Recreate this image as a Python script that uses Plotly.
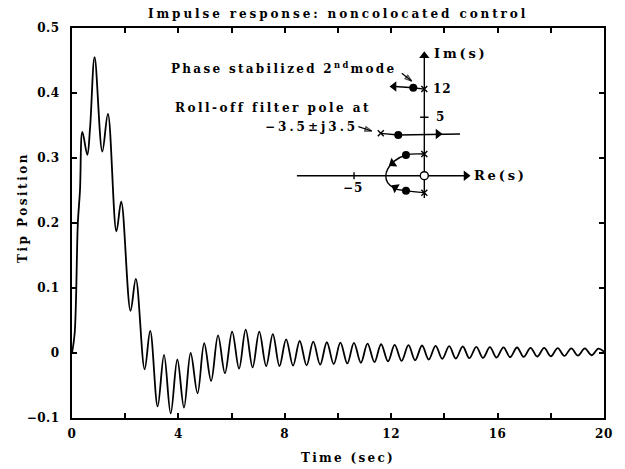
import plotly.graph_objects as go

# ---------------- data ----------------
time_s = [0.00, 0.10, 0.22, 0.30, 0.39, 0.575, 0.68, 0.85, 1.14, 1.35, 1.67, 1.85,
          2.20, 2.40, 2.73, 2.94, 3.22, 3.46, 3.71, 3.96, 4.21, 4.46, 4.72, 4.97,
          5.23, 5.49, 5.75, 6.02, 6.28, 6.53, 6.79, 7.04, 7.30, 7.55, 7.80, 8.05,
          8.31, 8.56, 8.82, 9.07, 9.33, 9.58, 9.84, 10.09, 10.35, 10.60, 10.86, 11.11,
          11.37, 11.62, 11.88, 12.13, 12.39, 12.65, 12.90, 13.16, 13.41, 13.67, 13.92,
          14.18, 14.43, 14.69, 14.94, 15.20, 15.45, 15.71, 15.96, 16.22, 16.47, 16.73,
          16.98, 17.24, 17.49, 17.75, 18.00, 18.26, 18.51, 18.77, 19.02, 19.28, 19.53,
          19.79, 20.00]
tip_position = [0.000, 0.030, 0.200, 0.250, 0.340, 0.305, 0.347, 0.455, 0.310, 0.368, 0.187, 0.233,
                0.065, 0.114, -0.025, 0.034, -0.082, -0.003, -0.093, -0.010, -0.084, 0.000, -0.062, 0.015,
                -0.043, 0.027, -0.031, 0.033, -0.024, 0.036, -0.022, 0.033, -0.020, 0.029, -0.020, 0.021,
                -0.0195, 0.0185, -0.019, 0.0175, -0.018, 0.0165, -0.017, 0.016, -0.016, 0.0155, -0.015, 0.0145,
                -0.014, 0.0135, -0.013, 0.0125, -0.012, 0.012, -0.011, 0.0115, -0.010, 0.011, -0.009,
                0.0105, -0.0085, 0.010, -0.008, 0.0095, -0.0075, 0.009, -0.007, 0.0088, -0.0065, 0.0085,
                -0.006, 0.008, -0.0055, 0.0078, -0.005, 0.0075, -0.0045, 0.0072, -0.004, 0.007, -0.0035,
                0.0068, 0.002]

x_tick_vals = [0, 2, 4, 6, 8, 10, 12, 14, 16, 18, 20]
x_tick_text = ["0", "", "4", "", "8", "", "12", "", "16", "", "20"]
y_tick_vals = [-0.1, 0.0, 0.1, 0.2, 0.3, 0.4, 0.5]
y_tick_text = ["\u22120.1", "0", "0.1", "0.2", "0.3", "0.4", "0.5"]

# root-locus sketch (sketch units: Re(s), Im(s))
re_axis_re = [-9.1, 3.0]
re_axis_im = [0.0, 0.0]
im_axis_re = [0.0, 0.0]
im_axis_im = [-1.9, 10.25]
axis_tick_re = [-5.02, -5.02, None, -0.3, 0.3]
axis_tick_im = [-0.3, 0.3, None, 5.0, 5.0]

mode2_re = [0.0, -0.79, -2.1]
mode2_im = [7.4, 7.52, 7.62]
rolloff_re = [-3.11, -1.86, 2.55]
rolloff_im = [3.62, 3.48, 3.56]
mode1_re = [0.0, -1.31, -2.2, -2.6, -2.75, -2.62, -2.1, -1.31, 0.0]
mode1_im = [1.85, 1.77, 1.2, 0.6, 0.0, -0.6, -1.1, -1.28, -1.45]

pole_re = [0.0, -3.11, 0.0, 0.0]
pole_im = [7.4, 3.62, 1.85, -1.45]
gain_pt_re = [-0.79, -1.86, -1.31, -1.31]
gain_pt_im = [7.52, 3.48, 1.77, -1.28]
zero_re = [0.0]
zero_im = [0.0]

head_re = [2.98, 0.0, -2.16, 0.98, -2.27, -2.08]
head_im = [0.0, 10.25, 7.62, 3.56, 1.05, -1.02]
head_angle = [90, 0, 270, 90, 235, 300]

# label pointers (tail -> tip)
pointer_mode_re = [-1.61, -0.9]
pointer_mode_im = [8.75, 8.09]
pointer_pole_re = [-4.71, -3.76]
pointer_pole_im = [4.19, 3.82]

# ---------------- figure ----------------
FONT = "DejaVu Serif"


def sp(text, px):
    return "<span style='letter-spacing:%.1fpx'>%s</span>" % (px, text)


fig = go.Figure()

fig.add_trace(go.Scatter(x=time_s, y=tip_position, mode="lines",
                         line=dict(color="black", width=1.8, shape="spline", smoothing=1.0),
                         hoverinfo="skip", showlegend=False))

ins = dict(xaxis="x2", yaxis="y2", showlegend=False, hoverinfo="skip")
line_k = dict(color="black", width=1.4)
fig.add_trace(go.Scatter(x=re_axis_re, y=re_axis_im, mode="lines", line=line_k, **ins))
fig.add_trace(go.Scatter(x=im_axis_re, y=im_axis_im, mode="lines", line=line_k, **ins))
fig.add_trace(go.Scatter(x=axis_tick_re, y=axis_tick_im, mode="lines", line=line_k, **ins))
fig.add_trace(go.Scatter(x=mode2_re, y=mode2_im, mode="lines", line=line_k, **ins))
fig.add_trace(go.Scatter(x=rolloff_re, y=rolloff_im, mode="lines", line=line_k, **ins))
fig.add_trace(go.Scatter(x=mode1_re, y=mode1_im, mode="lines",
                         line=dict(color="black", width=1.4, shape="spline"), **ins))
fig.add_trace(go.Scatter(x=head_re, y=head_im, mode="markers",
                         marker=dict(symbol="triangle-up", size=9, color="black", angle=head_angle,
                                     line=dict(width=0)), **ins))
fig.add_trace(go.Scatter(x=pole_re, y=pole_im, mode="markers",
                         marker=dict(symbol="x-thin", size=6, line=dict(color="black", width=1.4)), **ins))
fig.add_trace(go.Scatter(x=gain_pt_re, y=gain_pt_im, mode="markers",
                         marker=dict(symbol="circle", size=8, color="black"), **ins))
fig.add_trace(go.Scatter(x=zero_re, y=zero_im, mode="markers",
                         marker=dict(symbol="circle", size=8, color="white",
                                     line=dict(color="black", width=1.4)), **ins))
for pr, pi in [(pointer_mode_re, pointer_mode_im), (pointer_pole_re, pointer_pole_im)]:
    fig.add_trace(go.Scatter(x=pr, y=pi, mode="lines+markers", line=dict(color="black", width=1.2),
                             marker=dict(symbol="arrow-open", size=[0, 7], angleref="previous",
                                         color="black", line=dict(color="black", width=1.3)), **ins))

tf = dict(family=FONT, size=12, color="black", weight="bold")
tf13 = dict(family=FONT, size=13, color="black", weight="bold")

ann = []
ann.append(dict(text=sp("Impulse response: noncolocated control", 2.9), x=0.5, y=1.036,
                xref="paper", yref="paper", showarrow=False, xanchor="center", yanchor="middle", font=tf))
ann.append(dict(text=sp("Time (sec)", 2.3), x=0.5188, y=-0.1026,
                xref="paper", yref="paper", showarrow=False, xanchor="center", yanchor="middle", font=tf))
ann.append(dict(text=sp("Tip Position", 2.5), x=-0.0921, y=0.5385, textangle=-90,
                xref="paper", yref="paper", showarrow=False, xanchor="center", yanchor="middle", font=tf))
ann.append(dict(text=sp("Phase stabilized 2<sup>nd</sup>mode", 2.3), x=0.6133, y=0.8967,
                xref="paper", yref="paper", showarrow=False, xanchor="right", yanchor="middle", font=tf))
ann.append(dict(text=sp("Roll-off filter pole at", 2.5), x=0.1904, y=0.7941,
                xref="paper", yref="paper", showarrow=False, xanchor="left", yanchor="middle", font=tf))
ann.append(dict(text=sp("\u22123.5\u00b1j3.5", 3.0), x=0.541, y=0.7469,
                xref="paper", yref="paper", showarrow=False, xanchor="right", yanchor="middle", font=tf))
# inset labels
for txt, xx, yy, xa, f, s in [("Im(s)", 0.53, 10.46, "left", tf13, 2.8),
                              ("Re(s)", 3.39, 0.0, "left", tf13, 2.8),
                              ("12", 0.45, 7.45, "left", tf, 1.0),
                              ("5", 0.7, 5.04, "left", tf, 1.0),
                              ("\u22125", -5.06, -1.08, "center", tf, 1.0)]:
    ann.append(dict(text=sp(txt, s), x=xx, y=yy, xref="x2", yref="y2", showarrow=False,
                    xanchor=xa, yanchor="middle", font=f))

axis_common = dict(showline=True, linecolor="black", linewidth=2, mirror="ticks",
                   ticks="inside", ticklen=5, tickwidth=1.5, tickcolor="black",
                   showgrid=False, zeroline=False, tickfont=tf)

fig.update_layout(
    width=625, height=469,
    margin=dict(l=72, r=21, t=28, b=51),
    paper_bgcolor="white", plot_bgcolor="white",
    xaxis=dict(range=[0, 20], tickmode="array", tickvals=x_tick_vals,
               ticktext=[sp(t, 0.6) for t in x_tick_text], ticklabelstandoff=4,
               **axis_common),
    yaxis=dict(range=[-0.1, 0.5], tickmode="array", tickvals=y_tick_vals,
               ticktext=[sp(t, 0.5) for t in y_tick_text], ticklabelstandoff=8, **axis_common),
    xaxis2=dict(domain=[0.3991, 0.7675], range=[-10, 4], visible=False, anchor="y2"),
    yaxis2=dict(domain=[0.5313, 0.9513], range=[-3, 11], visible=False, anchor="x2"),
    annotations=ann,
)

fig.write_html("out.html")
